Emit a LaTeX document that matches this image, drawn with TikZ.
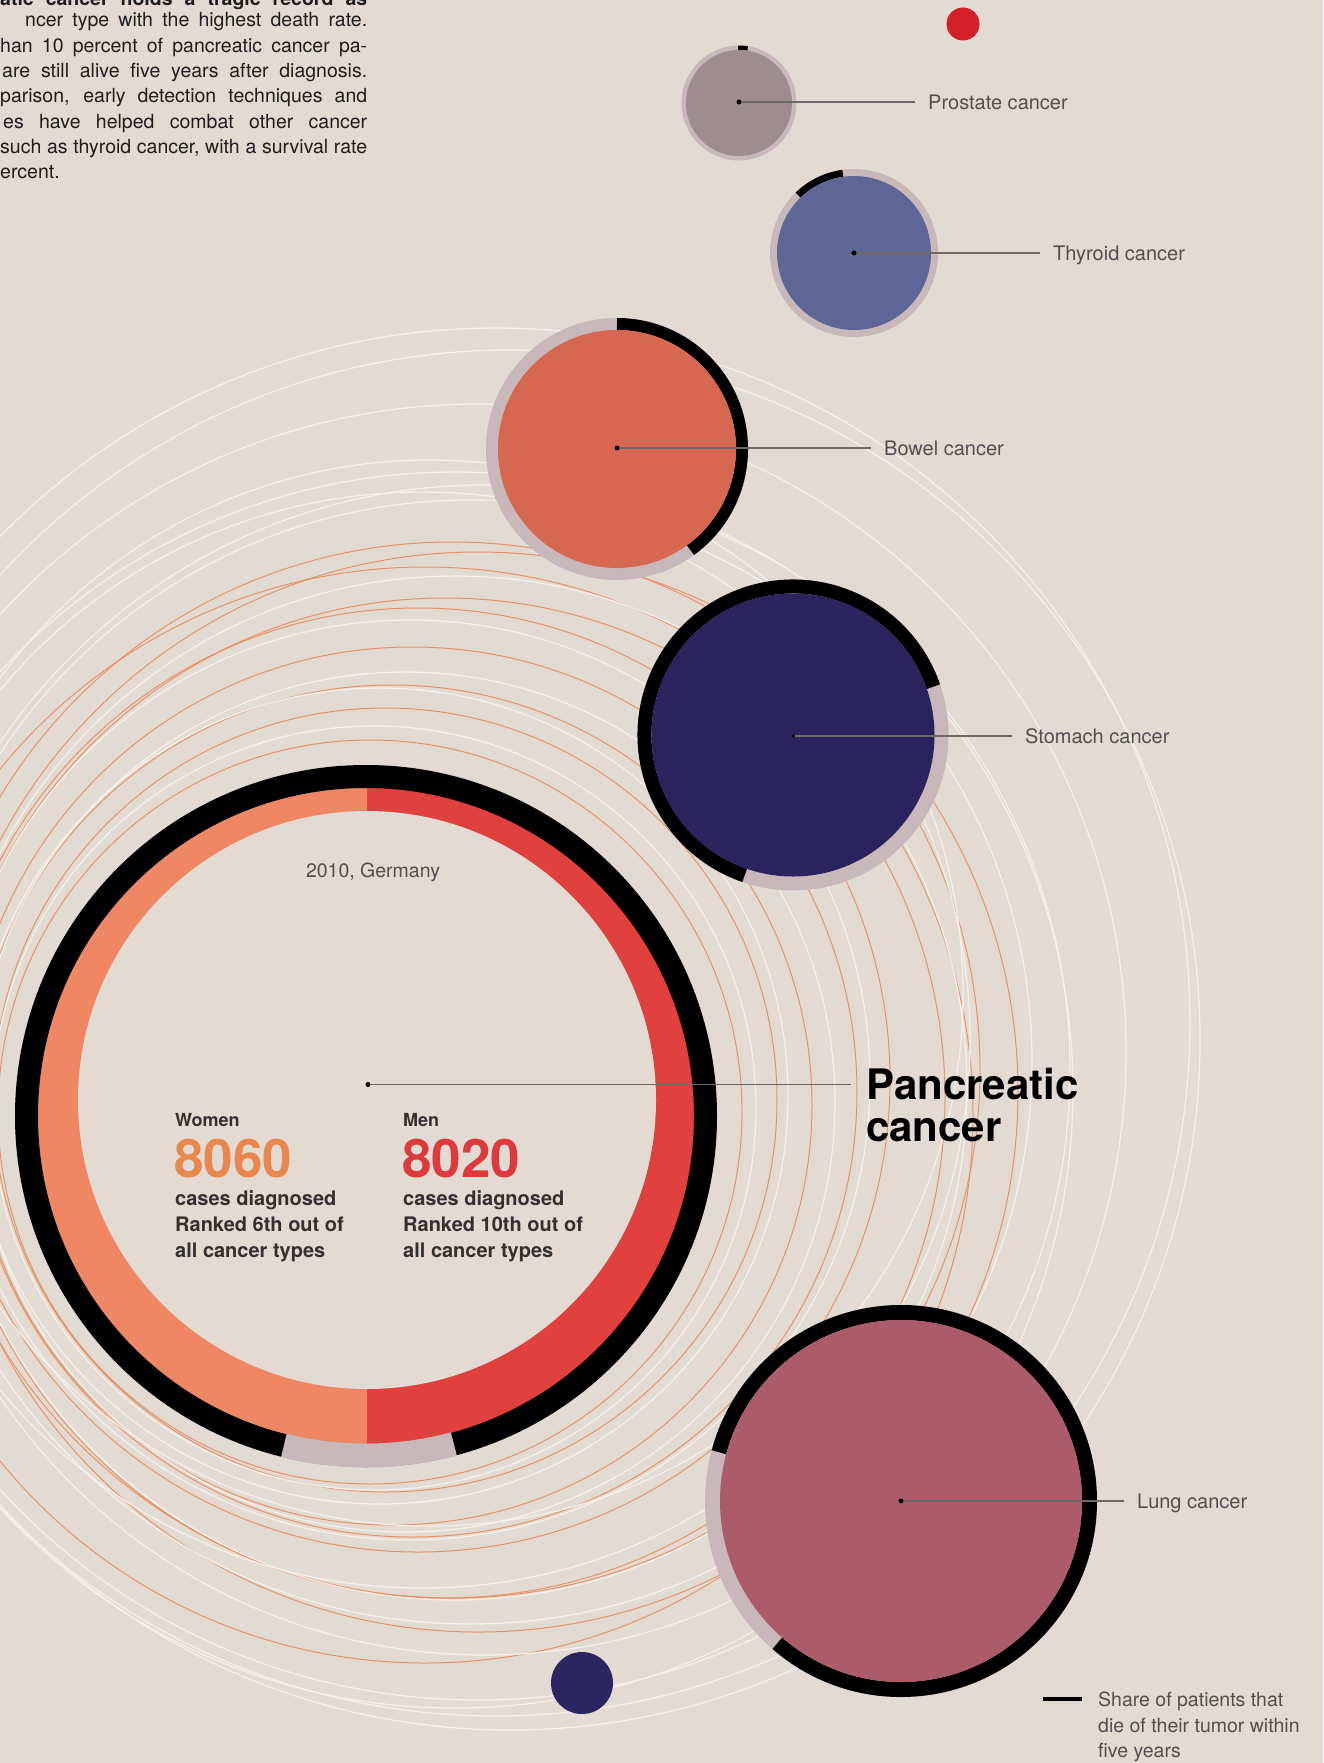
\documentclass[tikz,border=0pt]{standalone}
\usepackage{fontspec}
\setmainfont{TeX Gyre Heros}
\definecolor{bg}{HTML}{E3DAD1}
\definecolor{ringgrey}{HTML}{C9B8BA}
\definecolor{prostatec}{HTML}{9E8C8F}
\definecolor{thyroidc}{HTML}{5E6696}
\definecolor{bowelc}{HTML}{D66852}
\definecolor{stomachc}{HTML}{2A235E}
\definecolor{lungc}{HTML}{AC5C68}
\definecolor{womenc}{HTML}{EF8764}
\definecolor{menc}{HTML}{E0403E}
\definecolor{womennum}{HTML}{E8884F}
\definecolor{mennum}{HTML}{DC3A3C}
\definecolor{reddotc}{HTML}{D21F2A}
\definecolor{navyc}{HTML}{2B2560}
\definecolor{orbitorange}{HTML}{E58A5E}
\definecolor{orbitwhite}{HTML}{F7F2EC}
\definecolor{labelgrey}{HTML}{505050}
\definecolor{linegrey}{HTML}{6E6868}
\definecolor{paratext}{HTML}{1E1E1E}
\definecolor{darktext}{HTML}{333030}
\tikzset{
  orbO/.style={draw=orbitorange, line width=1pt, draw opacity=0.85},
  orbW/.style={draw=orbitwhite, line width=1.3pt, draw opacity=0.9},
  cdot/.style={circle, fill=black, inner sep=0pt, minimum size=5pt},
  lbl/.style={anchor=west, inner xsep=13pt, inner ysep=0pt, text=labelgrey,
    font=\fontsize{20pt}{24pt}\selectfont, text height=14.4pt, text depth=0pt},
  lead/.style={draw=linegrey, line width=1.5pt},
  para/.style={anchor=base west, inner sep=0pt, text=paratext, font=\fontsize{19.5pt}{25pt}\selectfont},
  inner/.style={anchor=base west, inner sep=0pt, text=darktext, font=\bfseries\fontsize{20pt}{25pt}\selectfont},
  bignum/.style={anchor=base west, inner sep=0pt, font=\bfseries\fontsize{53pt}{56pt}\selectfont},
  legtext/.style={anchor=base west, inner sep=0pt, text=labelgrey, font=\fontsize{19.5pt}{25pt}\selectfont}
}
\begin{document}
\begin{tikzpicture}[x=1pt,y=1pt]
\useasboundingbox (0,0) rectangle (1323,-1763);
\fill[bg] (0,0) rectangle (1323,-1763);
\clip (0,0) rectangle (1323,-1763);

% ---------- orbits ----------
\foreach \cx/\cy/\r in {370/1112/372, 385/1100/392, 392/1105/420, 412/1092/445, 418/1080/472, 445/1098/500, 452/1070/528, 425/1115/548, 478/1092/540}
  \draw[orbO] (\cx,-\cy) circle (\r);
\foreach \cx/\cy/\r in {374/1108/382, 380/1096/408, 405/1102/430, 410/1080/460, 430/993/533, 422/1040/548, 455/1088/512, 470/1062/562, 485/1070/585, 455/1090/618, 478/1052/648, 496/1022/694, 510/1040/690}
  \draw[orbW] (\cx,-\cy) circle (\r);

% ---------- pancreatic ring ----------
\coordinate (pc) at (366,-1116);
\coordinate (pin) at (367,-1100);
\begin{scope}
  \clip (0,0) rectangle (367,-1763);
  \fill[womenc] (pc) circle (330);
\end{scope}
\begin{scope}
  \clip (367,0) rectangle (1323,-1763);
  \fill[menc] (pc) circle (330);
\end{scope}
\fill[bg] (pin) circle (289);
\draw[black, line width=23pt] (pc) circle (339.5);
\draw[ringgrey, line width=24pt] ([shift={(-104:339.5)}]pc) arc[start angle=-104, end angle=-75, radius=339.5];

% ---------- small dots ----------
\fill[reddotc] (963,-24) circle (16.5);
\fill[navyc] (582,-1683) circle (31);

% ---------- prostate ----------
\coordinate (prc) at (739,-103);
\fill[ringgrey] (prc) circle (57.5);
\draw[black, line width=4.5pt] ([shift={(81:55.25)}]prc) arc[start angle=81, end angle=91, radius=55.25];
\fill[prostatec] (prc) circle (53);

% ---------- thyroid ----------
\coordinate (thc) at (854,-253);
\fill[ringgrey] (thc) circle (84);
\draw[black, line width=7pt] ([shift={(98:80.5)}]thc) arc[start angle=98, end angle=134, radius=80.5];
\fill[thyroidc] (thc) circle (77);

% ---------- bowel ----------
\coordinate (boc) at (617,-449);
\fill[ringgrey] (boc) circle (131);
\draw[black, line width=12pt] ([shift={(-54:125)}]boc) arc[start angle=-54, end angle=90, radius=125];
\fill[bowelc] (boc) circle (119);

% ---------- stomach ----------
\coordinate (stc) at (793,-735);
\fill[ringgrey] (stc) circle (155.5);
\draw[black, line width=14pt] ([shift={(19:148.5)}]stc) arc[start angle=19, end angle=251, radius=148.5];
\fill[stomachc] (stc) circle (141.5);

% ---------- lung ----------
\coordinate (luc) at (901,-1501);
\fill[ringgrey] (luc) circle (196);
\draw[black, line width=15pt] ([shift={(-131:188.5)}]luc) arc[start angle=-131, end angle=165, radius=188.5];
\fill[lungc] (luc) circle (181);

% ---------- labels and leader lines ----------
\node[lbl] (prl) at (915,-102) {Prostate cancer};
\node[lbl] (thl) at (1040,-253) {Thyroid cancer};
\node[lbl] (bol) at (871,-448) {Bowel cancer};
\node[lbl] (stl) at (1012,-736) {Stomach cancer};
\node[lbl] (lul) at (1124,-1501) {Lung cancer};
\node[anchor=west, inner xsep=15pt, inner ysep=0pt, font=\bfseries\fontsize{42pt}{44pt}\selectfont, text height=30pt, text depth=0pt, text=black] (pal) at (851,-1084.5) {Pancreatic};
\node[anchor=base west, inner sep=0pt, font=\bfseries\fontsize{42pt}{44pt}\selectfont, text=black] (pal2) at (866,-1141.7) {cancer};

\node[cdot] (prd) at (739,-102) {};
\node[cdot] (thd) at (854,-253) {};
\node[cdot] (bod) at (617,-448) {};
\node[cdot, minimum size=3.5pt] (std) at (793,-736) {};
\node[cdot] (lud) at (901,-1501) {};
\node[cdot] (pad) at (368,-1084.5) {};

\draw[lead] (prd) -- (prl.west);
\draw[lead] (thd) -- (thl.west);
\draw[lead] (bod) -- (bol.west);
\draw[lead] (std) -- (stl.west);
\draw[lead] (lud) -- (lul.west);
\draw[lead] (pad) -- (pal.west);

% ---------- inside pancreatic ring ----------
\node[anchor=base, inner sep=0pt, text=labelgrey, font=\fontsize{19.5pt}{24pt}\selectfont] (year) at (373,-877) {2010, Germany};
\node[inner, font=\bfseries\fontsize{18pt}{22pt}\selectfont] (wlab) at (175,-1126.7) {Women};
\node[inner, font=\bfseries\fontsize{18pt}{22pt}\selectfont] (mlab) at (403,-1126.7) {Men};
\node[bignum, text=womennum] (wnum) at (174,-1177) {8060};
\node[bignum, text=mennum] (mnum) at (402,-1177) {8020};
\node[inner] (w1) at (175,-1205) {cases diagnosed};
\node[inner] (w2) at (175,-1231.7) {Ranked 6th out of};
\node[inner] (w3) at (175,-1257) {all cancer types};
\node[inner] (m1) at (403,-1205) {cases diagnosed};
\node[inner] (m2) at (403,-1231.7) {Ranked 10th out of};
\node[inner] (m3) at (403,-1257) {all cancer types};

% ---------- paragraph (cut at left/top edge) ----------
\node[para, font=\bfseries\fontsize{19.5pt}{25pt}\selectfont] (p1) at (0,-6) {\makebox[367pt][s]{atic cancer holds a tragic record as}};
\node[para] (p2) at (25,-26.7) {\makebox[342pt][s]{ncer type with the highest death rate.}};
\node[para] (p3) at (0,-52.3) {\makebox[367pt][s]{han 10 percent of pancreatic cancer pa-}};
\node[para] (p4) at (2,-77.5) {\makebox[365pt][s]{are still alive five years after diagnosis.}};
\node[para] (p5) at (0,-102.8) {\makebox[367pt][s]{parison, early detection techniques and}};
\node[para] (p6) at (3,-128.1) {\makebox[364pt][s]{es have helped combat other cancer}};
\node[para] (p7) at (0,-153.3) {\makebox[367pt][s]{such as thyroid cancer, with a survival rate}};
\node[para] (p8) at (0,-178.5) {ercent.};

% ---------- legend ----------
\coordinate (legA) at (1043,-1699);
\coordinate (legB) at (1082,-1699);
\draw[black, line width=4.5pt] (legA) -- (legB);
\node[legtext] (leg1) at (1098,-1706.5) {Share of patients that};
\node[legtext] (leg2) at (1098,-1732) {die of their tumor within};
\node[legtext] (leg3) at (1098,-1757.5) {five years};
\end{tikzpicture}
\end{document}
